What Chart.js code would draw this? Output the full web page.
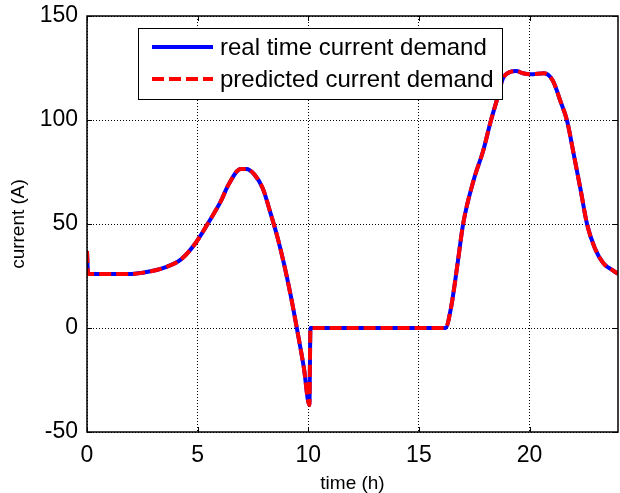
<!DOCTYPE html>
<html>
<head>
<meta charset="utf-8">
<script src="https://cdn.jsdelivr.net/npm/chart.js@4"></script>
<style>
  html, body { margin: 0; padding: 0; background: #fff; }
  #wrap { width: 620px; height: 493px; }
</style>
</head>
<body>
<div id="wrap"><canvas id="demandChart" width="620" height="493"></canvas></div>
<script>
// time axis (hours) and current (A)
const hours = [0, 0.05, 1, 2, 2.75, 3.5, 4.25, 4.85, 5.45, 6.05, 6.4, 6.95, 7.2, 7.55, 7.95, 8.3, 8.6, 8.9, 9.2, 9.5, 9.8, 10.05,
    10.1, 12, 14, 16.2, 16.45, 16.75, 17.0, 17.5, 17.9, 18.25, 18.55, 18.8, 19.1, 19.4, 19.7, 20.05, 20.65,
    21.05, 21.4, 21.7, 22.0, 22.3, 22.6, 22.95, 23.35, 23.8, 24];
const realDemand = [37, 26, 26, 26, 27, 29, 33, 40, 50, 61, 69, 76.5, 76.5, 74, 67, 55, 44, 31, 16, -1, -19, -37,
    0, 0, 0, 0, 9.6, 31, 50, 72, 85, 99.5, 110.5, 120, 123, 123.5, 122.5, 122, 122.5,
    119, 109, 99.5, 83.5, 67, 50, 38.5, 31, 27.5, 26];
const predictedDemand = [37, 26, 26, 26, 27, 29, 33, 40, 50, 61, 69, 76.5, 76.5, 74, 67, 55, 44, 31, 16, -1, -19, -37,
    0, 0, 0, 0, 9.6, 31, 50, 72, 85, 99.5, 110.5, 120, 123, 123.5, 122.5, 122, 122.5,
    119, 109, 99.5, 83.5, 67, 50, 38.5, 31, 27.5, 26];
const xTicks = [0, 5, 10, 15, 20];
const yTicks = [-50, 0, 50, 100, 150];
const legendLabels = ["real time current demand", "predicted current demand"];

const FONT = "'Liberation Sans', Arial, Helvetica, sans-serif";

function toPoints(xs, ys) {
    return xs.map((x, i) => ({ x: x, y: ys[i] }));
}

// box around the axes, inward tick marks and the legend, MATLAB style
const matlabFrame = {
    id: "matlabFrame",
    afterDraw(chart) {
        const ctx = chart.ctx;
        const a = chart.chartArea;
        const xs = chart.scales.x;
        const ys = chart.scales.y;
        ctx.save();
        ctx.strokeStyle = "#000";
        ctx.lineWidth = 1;
        ctx.beginPath();
        xTicks.forEach(v => {
            const px = Math.round(xs.getPixelForValue(v)) + 0.5;
            ctx.moveTo(px, a.bottom); ctx.lineTo(px, a.bottom - 5);
            ctx.moveTo(px, a.top); ctx.lineTo(px, a.top + 5);
        });
        yTicks.forEach(v => {
            const py = Math.round(ys.getPixelForValue(v)) + 0.5;
            ctx.moveTo(a.left, py); ctx.lineTo(a.left + 5, py);
            ctx.moveTo(a.right, py); ctx.lineTo(a.right - 5, py);
        });
        ctx.stroke();
        ctx.lineWidth = 1.5;
        ctx.strokeRect(a.left, a.top, a.right - a.left, a.bottom - a.top);

        // legend
        const lx = 138, ly = 28, lw = 364, lh = 71;
        ctx.fillStyle = "#fff";
        ctx.fillRect(lx, ly, lw, lh);
        ctx.lineWidth = 1;
        ctx.strokeRect(lx + 0.5, ly + 0.5, lw, lh);
        const rows = [47, 79];
        chart.data.datasets.forEach((ds, i) => {
            ctx.beginPath();
            ctx.strokeStyle = ds.borderColor;
            ctx.lineWidth = ds.borderWidth;
            ctx.setLineDash(ds.borderDash || []);
            ctx.moveTo(152, rows[i]);
            ctx.lineTo(213, rows[i]);
            ctx.stroke();
            ctx.setLineDash([]);
            ctx.fillStyle = "#000";
            ctx.font = "24px " + FONT;
            ctx.textBaseline = "middle";
            ctx.textAlign = "left";
            ctx.fillText(legendLabels[i], 220, rows[i] + 1);
        });
        ctx.restore();
    }
};

const ctx = document.getElementById("demandChart").getContext("2d");
const demandChart = new Chart(ctx, {
    type: "line",
    data: {
        datasets: [
            {
                label: legendLabels[0],
                data: toPoints(hours, realDemand),
                borderColor: "#0000ff",
                borderWidth: 4,
                pointRadius: 0,
                cubicInterpolationMode: "monotone",
                order: 2,
            },
            {
                label: legendLabels[1],
                data: toPoints(hours, predictedDemand),
                borderColor: "#ff0000",
                borderWidth: 4,
                borderDash: [12, 5],
                pointRadius: 0,
                cubicInterpolationMode: "monotone",
                order: 1,
            },
        ],
    },
    options: {
        responsive: false,
        animation: false,
        layout: { padding: { top: 16, right: 2, left: 0, bottom: 0 } },
        plugins: { legend: { display: false }, tooltip: { enabled: false } },
        scales: {
            x: {
                type: "linear",
                min: 0,
                max: 24,
                afterBuildTicks: (scale) => { scale.ticks = xTicks.map(v => ({ value: v })); },
                afterFit: (scale) => { scale.height = 61; scale.paddingLeft = 0; scale.paddingRight = 0; },
                grid: { color: "#000", lineWidth: 1, drawTicks: false },
                border: { display: false, dash: [1, 2] },
                ticks: { color: "#000", font: { family: FONT, size: 23 }, padding: 10, maxRotation: 0 },
                title: { display: true, text: "time (h)", color: "#000", font: { family: FONT, size: 19, lineHeight: 1 }, padding: { top: 0, bottom: 0 } },
            },
            y: {
                type: "linear",
                min: -50,
                max: 150,
                afterBuildTicks: (scale) => { scale.ticks = yTicks.map(v => ({ value: v })); },
                afterFit: (scale) => { scale.width = 87; scale.paddingTop = 0; scale.paddingBottom = 0; },
                grid: { color: "#000", lineWidth: 1, drawTicks: false },
                border: { display: false, dash: [1, 2] },
                ticks: { color: "#000", font: { family: FONT, size: 23 }, padding: 9 },
                title: { display: true, text: "current (A)", color: "#000", font: { family: FONT, size: 19 }, padding: { top: 7, bottom: 0 } },
            },
        },
    },
    plugins: [matlabFrame],
});
</script>
</body>
</html>
